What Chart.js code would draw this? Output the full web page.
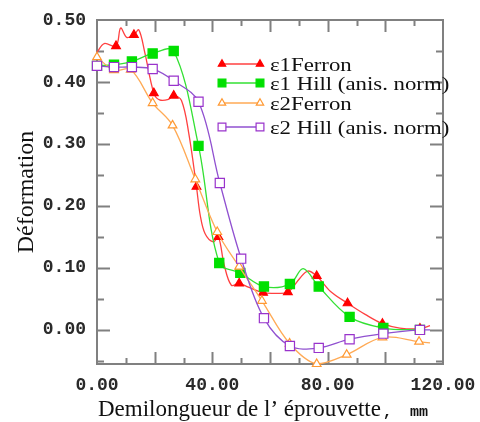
<!DOCTYPE html>
<html>
<head>
<meta charset="utf-8">
<script src="https://cdn.jsdelivr.net/npm/chart.js@4.4.0/dist/chart.umd.min.js"></script>
<style>
    html, body { margin: 0; padding: 0; background: #fff; }
    #wrapper { width: 480px; height: 422px; position: relative; }
</style>
</head>
<body>
<div id="wrapper"><canvas id="chart"></canvas></div>
<script>
// tick labels
const xLabelValues = [0, 40, 80, 120];
const xLabels = ['0.00', '40.00', '80.00', '120.00'];
const yLabelValues = [0.5, 0.4, 0.3, 0.2, 0.1, 0.0];
const yLabels = ['0.50', '0.40', '0.30', '0.20', '0.10', '0.00'];

const legendNames = ['ε1Ferron', 'ε1 Hill (anis. norm)', 'ε2Ferron', 'ε2 Hill (anis. norm)'];

// eps1 Ferron - the traced curve and the points carrying a marker
const e1FerronX = [0, 2.5, 6.6, 8.2, 10.3, 12.8, 14.5, 16.6, 19.7, 21.7, 24.8, 26.6, 29.3, 31.8, 34.5, 35.8, 37.5, 40.3, 42.1, 44.1, 46.6, 49.3, 52.5, 57.6, 62, 66.2, 70.3, 73.1, 76.2, 81, 86.9, 93, 99, 105, 112, 115.5];
const e1FerronY = [0.448, 0.462, 0.458, 0.487, 0.472, 0.476, 0.484, 0.447, 0.382, 0.371, 0.372, 0.378, 0.370, 0.318, 0.231, 0.185, 0.155, 0.142, 0.150, 0.105, 0.072, 0.075, 0.069, 0.060, 0.059, 0.061, 0.083, 0.095, 0.087, 0.062, 0.043, 0.025, 0.010, 0.003, 0.002, 0.007];
const e1FerronMarkX = [6.6, 12.8, 19.7, 26.6, 34.5, 42.1, 49.3, 57.6, 66.2, 76.2, 86.9, 99, 112];
const e1FerronMarkY = [0.458, 0.476, 0.382, 0.378, 0.231, 0.150, 0.075, 0.060, 0.061, 0.087, 0.043, 0.010, 0.002];

// eps1 Hill
const e1HillX = [0, 5.9, 12.1, 19.3, 26.6, 35.2, 42.4, 49.7, 57.9, 66.9, 71.5, 76.9, 87.6, 99.3, 112];
const e1HillY = [0.426, 0.428, 0.433, 0.446, 0.450, 0.297, 0.108, 0.092, 0.070, 0.074, 0.099, 0.070, 0.021, 0.003, 0.000];
const e1HillMarkX = [0, 5.9, 12.1, 19.3, 26.6, 35.2, 42.4, 49.7, 57.9, 66.9, 76.9, 87.6, 99.3, 112];
const e1HillMarkY = [0.426, 0.428, 0.433, 0.446, 0.450, 0.297, 0.108, 0.092, 0.070, 0.074, 0.070, 0.021, 0.003, 0.000];

// eps2 Ferron
const e2FerronX = [0, 5.9, 11.7, 19.3, 26.2, 34.1, 41.7, 49.3, 57.2, 66.8, 76.2, 86.6, 99, 111.7, 115.5];
const e2FerronY = [0.440, 0.419, 0.420, 0.366, 0.330, 0.243, 0.158, 0.102, 0.047, -0.022, -0.055, -0.040, -0.012, -0.019, -0.021];
const e2FerronMarkX = [0, 5.9, 11.7, 19.3, 26.2, 34.1, 41.7, 49.3, 57.2, 66.8, 76.2, 86.6, 99, 111.7];
const e2FerronMarkY = [0.440, 0.419, 0.420, 0.366, 0.330, 0.243, 0.158, 0.102, 0.047, -0.022, -0.055, -0.040, -0.012, -0.019];

// eps2 Hill
const e2HillX = [0, 5.9, 12.1, 19.3, 26.6, 35.2, 42.6, 50, 57.9, 66.9, 76.9, 87.6, 99.3, 112, 115.5];
const e2HillY = [0.426, 0.424, 0.424, 0.421, 0.402, 0.368, 0.237, 0.115, 0.019, -0.026, -0.029, -0.015, -0.006, 0.000, 0.000];
const e2HillMarkX = [0, 5.9, 12.1, 19.3, 26.6, 35.2, 42.6, 50, 57.9, 66.9, 76.9, 87.6, 99.3, 112];
const e2HillMarkY = [0.426, 0.424, 0.424, 0.421, 0.402, 0.368, 0.237, 0.115, 0.019, -0.026, -0.029, -0.015, -0.006, 0.000];


function pts(xs, ys) {
    return xs.map((x, i) => ({ x: x, y: ys[i] }));
}

const series = [
    { line: pts(e1FerronX, e1FerronY), marks: pts(e1FerronMarkX, e1FerronMarkY), lineColor: '#ff4040', markColor: '#ff0000', fill: '#ff0000', style: 'triangle', r: 5 },
    { line: pts(e1HillX, e1HillY), marks: pts(e1HillMarkX, e1HillMarkY), lineColor: '#33e033', markColor: '#00e000', fill: '#00e000', style: 'rect', r: 6.5 },
    { line: pts(e2FerronX, e2FerronY), marks: pts(e2FerronMarkX, e2FerronMarkY), lineColor: '#ffaa55', markColor: '#ff9933', fill: '#ffffff', style: 'triangle', r: 5 },
    { line: pts(e2HillX, e2HillY), marks: pts(e2HillMarkX, e2HillMarkY), lineColor: '#9050d0', markColor: '#9933cc', fill: '#ffffff', style: 'rect', r: 6.5 }
];

const datasets = [];
series.forEach((s, i) => {
    datasets.push({
        data: s.line,
        showLine: true,
        borderColor: s.lineColor,
        borderWidth: 1.3,
        pointRadius: 0,
        tension: 0.35,
        order: 10 - i * 2,
        clip: false
    });
    datasets.push({
        data: s.marks,
        showLine: false,
        pointStyle: s.style,
        pointRadius: s.r,
        pointBorderWidth: 1.2,
        pointBorderColor: s.markColor,
        pointBackgroundColor: s.fill,
        order: 9 - i * 2,
        clip: false
    });
});

// frame, inward ticks, tick labels and axis titles
const framePlugin = {
    id: 'frame',
    beforeDatasetsDraw(chart) {
        const ctx = chart.ctx;
        const a = chart.chartArea;
        const xs = chart.scales.x, ys = chart.scales.y;
        ctx.save();
        ctx.strokeStyle = '#808080';
        ctx.lineWidth = 2;
        ctx.strokeRect(a.left, a.top, a.right - a.left, a.bottom - a.top);

        ctx.beginPath();
        for (let v = 10; v < 120; v += 10) {
            const px = Math.round(xs.getPixelForValue(v)) + 0.5;
            const len = v % 20 === 0 ? 12 : 6;
            ctx.moveTo(px, a.bottom); ctx.lineTo(px, a.bottom - len);
            ctx.moveTo(px, a.top); ctx.lineTo(px, a.top + len);
        }
        for (let k = -1; k <= 9; k++) {
            const v = k * 0.05;
            const py = Math.round(ys.getPixelForValue(v)) + 0.5;
            const len = k % 2 === 0 ? 13 : 7;
            ctx.moveTo(a.left, py); ctx.lineTo(a.left + len, py);
            ctx.moveTo(a.right, py); ctx.lineTo(a.right - len, py);
        }
        ctx.stroke();

        ctx.fillStyle = '#2a2a2a';
        ctx.font = 'bold 18px "Liberation Mono"';
        ctx.textBaseline = 'middle';
        ctx.textAlign = 'right';
        yLabelValues.forEach((v, i) => {
            ctx.fillText(yLabels[i], 86, ys.getPixelForValue(v));
        });
        ctx.textAlign = 'center';
        xLabelValues.forEach((v, i) => {
            ctx.fillText(xLabels[i], xs.getPixelForValue(v), 385);
        });

        // axis titles
        ctx.fillStyle = '#111';
        ctx.textBaseline = 'alphabetic';
        ctx.textAlign = 'left';
        ctx.font = '23px "Liberation Serif"';
        const t1 = 'Demilongueur de l\u2019 \u00e9prouvette';
        ctx.fillText(t1, 98, 416);
        const w1 = ctx.measureText(t1).width;
        ctx.font = 'bold 15px "Liberation Mono"';
        ctx.fillText(',  mm', 98 + w1 + 2, 416);

        ctx.translate(33, 192);
        ctx.rotate(-Math.PI / 2);
        ctx.textAlign = 'center';
        ctx.font = '24px "Liberation Serif"';
        ctx.fillText('D\u00e9formation', 0, 0);
        ctx.restore();
    }
};

// legend drawn inside the plot: marker - line - marker, then the name
const legendPlugin = {
    id: 'insideLegend',
    afterDraw(chart) {
        const ctx = chart.ctx;
        const rows = [64, 83, 103, 127];
        ctx.save();
        series.forEach((s, i) => {
            const y = rows[i];
            ctx.strokeStyle = s.lineColor;
            ctx.lineWidth = 1.3;
            ctx.beginPath();
            ctx.moveTo(222, y); ctx.lineTo(260, y);
            ctx.stroke();
            ctx.strokeStyle = s.markColor;
            ctx.fillStyle = s.fill;
            ctx.lineWidth = 1.2;
            [222, 260].forEach(px => {
                Chart.helpers.drawPoint(ctx, { pointStyle: s.style, radius: s.r * 0.85, rotation: 0, borderWidth: 1.2 }, px, y);
            });
            ctx.save();
            ctx.fillStyle = '#111';
            ctx.font = '19px "Liberation Serif"';
            ctx.textBaseline = 'alphabetic';
            ctx.translate(270, y + 7);
            ctx.scale(1.2, 1);
            ctx.fillText(legendNames[i], 0, 0);
            ctx.restore();
        });
        ctx.restore();
    }
};

document.addEventListener('DOMContentLoaded', () => {
    const ctx = document.getElementById('chart').getContext('2d');
    new Chart(ctx, {
        type: 'scatter',
        data: { datasets: datasets },
        options: {
            responsive: true,
            maintainAspectRatio: false,
            animation: false,
            layout: { padding: { left: 97, right: 37, top: 20, bottom: 58 } },
            plugins: { legend: { display: false }, tooltip: { enabled: false } },
            scales: {
                x: { type: 'linear', min: 0, max: 120, display: false },
                y: { type: 'linear', min: -0.055, max: 0.5, display: false }
            }
        },
        plugins: [framePlugin, legendPlugin]
    });
});
</script>
</body>
</html>
